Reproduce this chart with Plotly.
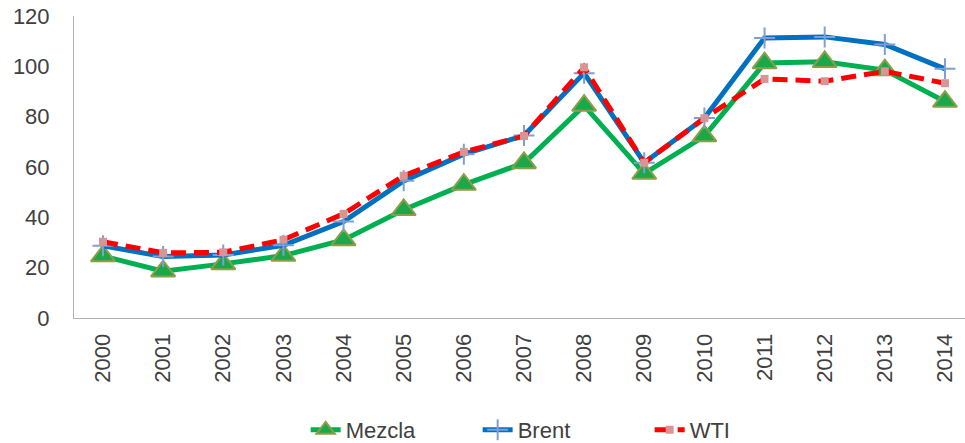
import plotly.graph_objects as go

years = [str(y) for y in range(2000, 2015)]
mezcla = [24.6, 18.6, 21.5, 24.8, 31.0, 43.0, 53.0, 61.6, 84.4, 57.4, 72.3, 101.3, 101.8, 98.5, 86.0]
brent = [28.7, 24.4, 25.0, 28.9, 38.3, 54.5, 65.1, 72.5, 97.3, 61.7, 79.5, 111.3, 111.7, 108.7, 99.0]
wti = [30.3, 25.9, 26.1, 31.1, 41.4, 56.5, 66.0, 72.3, 99.6, 61.7, 79.4, 95.0, 94.1, 98.0, 93.3]

font_family = "Liberation Sans, Arial, sans-serif"
text_color = "#404040"

fig = go.Figure()
fig.add_trace(go.Scatter(
    x=years, y=mezcla, name="Mezcla", mode="lines+markers",
    line=dict(color="#00b050", width=5),
    marker=dict(symbol="triangle-up", size=21, color="#1aa84a",
                line=dict(color="#8d9e4a", width=2)),
))
fig.add_trace(go.Scatter(
    x=years, y=brent, name="Brent", mode="lines+markers",
    line=dict(color="#0070c0", width=5),
    marker=dict(symbol="cross-thin", size=15, color="#7f9fd4",
                line=dict(color="#7f9fd4", width=2)),
))
fig.add_trace(go.Scatter(
    x=years, y=wti, name="WTI", mode="lines+markers",
    line=dict(color="#ff0000", width=5, dash="15px,8px"),
    marker=dict(symbol="square", size=8, color="#d99594",
                line=dict(color="#d99594", width=0)),
))

fig.update_layout(
    width=965, height=443,
    margin=dict(l=74, r=0, t=16, b=125, autoexpand=False),
    paper_bgcolor="white", plot_bgcolor="white",
    font=dict(family=font_family, size=22, color=text_color),
    showlegend=True,
    legend=dict(orientation="h", x=0.260, xanchor="left", y=-0.371, yanchor="middle",
                font=dict(size=22, color=text_color), entrywidth=127,
                entrywidthmode="pixels", traceorder="normal"),
    xaxis=dict(type="category", range=[-0.482, 14.333], showline=True,
               linecolor="#b3b3b3", linewidth=1, showgrid=False, zeroline=False,
               tickangle=-90, ticks="", ticklabelstandoff=6, automargin=False,
               ticklabeloverflow="allow"),
    yaxis=dict(range=[0, 120], dtick=20, showline=True, linecolor="#b3b3b3",
               linewidth=1, showgrid=False, zeroline=False, ticks="",
               ticklabelstandoff=19, automargin=False, ticklabeloverflow="allow"),
)

fig.write_html("out.html", config={"displayModeBar": False},
               post_script="document.body.style.margin='0';")
